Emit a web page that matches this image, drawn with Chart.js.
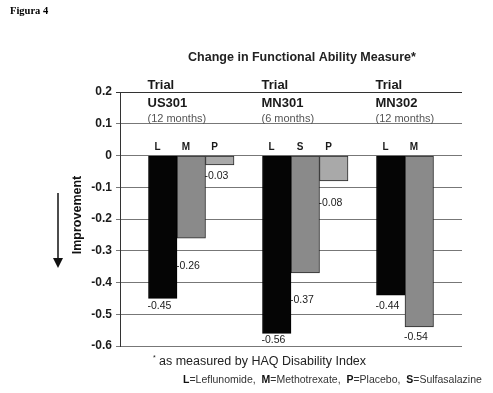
<!DOCTYPE html>
<html>
<head>
<meta charset="utf-8">
<script src="https://cdn.jsdelivr.net/npm/chart.js@4.4.1/dist/chart.umd.min.js"></script>
<style>
  html, body { margin: 0; padding: 0; background: #fff; }
</style>
</head>
<body>
<canvas id="haqChart" width="493" height="393"></canvas>
<script>
const trials = ['US301', 'MN301', 'MN302'];
const durations = ['(12 months)', '(6 months)', '(12 months)'];
const leflunomide = [-0.45, -0.56, -0.44];
const comparator = [-0.26, -0.37, -0.54];
const comparatorCodes = ['M', 'S', 'M'];
const placebo = [-0.03, -0.08, null];
const yTicks = [0.2, 0.1, 0, -0.1, -0.2, -0.3, -0.4, -0.5, -0.6];

const SANS = '"Liberation Sans", Arial, sans-serif';

// how far below each bar end its value sits (hand placed in the original)
const labelDrop = [[8, 7, 11], [28, 27, 10], [11.5, 22, 0]];

const fmt = v => {
    const s = Number(v.toFixed(2)).toString();
    return s === '-0' ? '0' : s;
};

const annotate = {
    id: 'annotate',
    afterDraw(chart) {
        const ctx = chart.ctx;
        const y = chart.scales.y;
        const lMeta = chart.getDatasetMeta(1);
        ctx.save();
        ctx.textBaseline = 'middle';

        ctx.fillStyle = '#000';
        ctx.textAlign = 'left';
        ctx.font = 'bold 10.5px "Liberation Serif", serif';
        ctx.fillText('Figura 4', 10, 11);

        ctx.fillStyle = '#222';
        ctx.textAlign = 'center';
        ctx.font = `bold 12.5px ${SANS}`;
        ctx.fillText('Change in Functional Ability Measure*', 302, 58);

        // trial headers
        trials.forEach((t, i) => {
            const bar = lMeta.data[i];
            const x0 = bar.x - bar.width / 2 - 1;
            ctx.textAlign = 'left';
            ctx.fillStyle = '#1a1a1a';
            ctx.font = `bold 13px ${SANS}`;
            ctx.fillText('Trial', x0, y.getPixelForValue(0.2) - 7);
            ctx.fillText(t, x0, y.getPixelForValue(0.2) + 11);
            ctx.fillStyle = '#555';
            ctx.font = `11px ${SANS}`;
            ctx.fillText(durations[i], x0, y.getPixelForValue(0.1) - 5);
        });

        // bar letters + value labels
        const letters = [trials.map(() => 'L'), comparatorCodes, trials.map(() => 'P')];
        [1, 2, 3].forEach((d, k) => {
            const ds = chart.data.datasets[d];
            chart.getDatasetMeta(d).data.forEach((bar, i) => {
                const v = ds.data[i];
                if (v === null || v === undefined) return;
                const left = bar.x - bar.width / 2;
                ctx.fillStyle = '#1a1a1a';
                ctx.textAlign = 'center';
                ctx.font = `bold 10px ${SANS}`;
                ctx.fillText(letters[k][i], left + 9, y.getPixelForValue(0) - 8);
                ctx.textAlign = 'left';
                ctx.font = `10.5px ${SANS}`;
                ctx.fillText(fmt(v), left - 1, bar.y + labelDrop[k][i]);
            });
        });

        // axis caption + arrow
        ctx.save();
        ctx.translate(78, 215);
        ctx.rotate(-Math.PI / 2);
        ctx.textAlign = 'center';
        ctx.fillStyle = '#111';
        ctx.font = `bold 12.5px ${SANS}`;
        ctx.fillText('Improvement', 0, 0);
        ctx.restore();

        ctx.strokeStyle = '#111';
        ctx.lineWidth = 1.5;
        ctx.beginPath();
        ctx.moveTo(58, 193);
        ctx.lineTo(58, 259);
        ctx.stroke();
        ctx.fillStyle = '#111';
        ctx.beginPath();
        ctx.moveTo(53, 258);
        ctx.lineTo(63, 258);
        ctx.lineTo(58, 268);
        ctx.closePath();
        ctx.fill();

        // footnotes
        ctx.textAlign = 'left';
        ctx.fillStyle = '#222';
        ctx.font = `7px ${SANS}`;
        ctx.fillText('*', 153, 358);
        ctx.font = `12.5px ${SANS}`;
        ctx.fillText('as measured by HAQ Disability Index', 159, 362);

        const legend = [['L', '=Leflunomide,  '], ['M', '=Methotrexate,  '], ['P', '=Placebo,  '], ['S', '=Sulfasalazine']];
        let x = 183;
        legend.forEach(([code, name]) => {
            ctx.fillStyle = '#111';
            ctx.font = `bold 10.5px ${SANS}`;
            ctx.fillText(code, x, 380);
            x += ctx.measureText(code).width;
            ctx.fillStyle = '#333';
            ctx.font = `10.5px ${SANS}`;
            ctx.fillText(name, x, 380);
            x += ctx.measureText(name).width;
        });
        ctx.restore();
    }
};

new Chart(document.getElementById('haqChart').getContext('2d'), {
    type: 'bar',
    data: {
        labels: trials,
        datasets: [
            // empty first slot, keeps the gap left of each group
            { label: '', data: trials.map(() => null) },
            { label: 'Leflunomide', data: leflunomide, backgroundColor: '#050505', borderColor: '#000' },
            { label: 'Comparator', data: comparator, backgroundColor: '#8a8a8a', borderColor: '#2a2a2a' },
            { label: 'Placebo', data: placebo, backgroundColor: '#a9a9a9', borderColor: '#2a2a2a' }
        ]
    },
    options: {
        responsive: false,
        animation: false,
        layout: { padding: { left: 0, right: 31, top: 92, bottom: 47 } },
        datasets: {
            bar: { barPercentage: 1, categoryPercentage: 1, borderWidth: 1, borderSkipped: false }
        },
        plugins: {
            legend: { display: false },
            tooltip: { enabled: false }
        },
        scales: {
            x: { display: false },
            y: {
                min: yTicks[yTicks.length - 1],
                max: yTicks[0],
                afterBuildTicks: axis => { axis.ticks = yTicks.map(v => ({ value: v })); },
                afterFit: axis => { axis.width = 120; },
                ticks: {
                    padding: 4,
                    callback: v => fmt(v),
                    font: { family: SANS, size: 12, weight: 'bold' },
                    color: '#1a1a1a'
                },
                grid: {
                    color: c => (c.tick && c.tick.value === 0.2 ? '#333' : '#777'),
                    tickLength: 4,
                    lineWidth: 1
                },
                border: { display: true, color: '#333' }
            }
        }
    },
    plugins: [annotate]
});
</script>
</body>
</html>
